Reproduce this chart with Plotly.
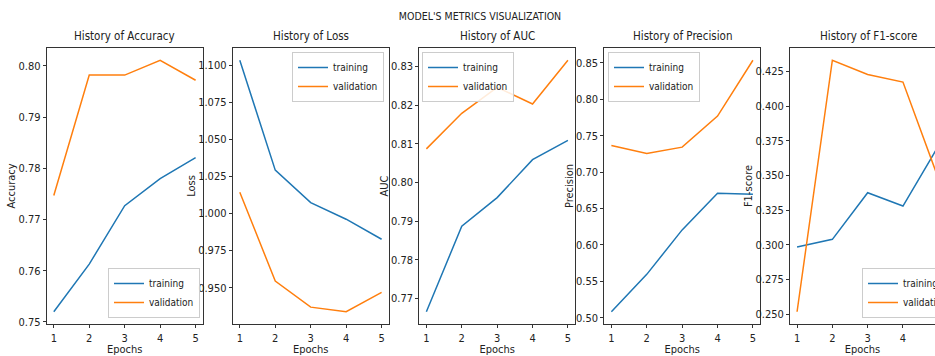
import plotly.graph_objects as go

epochs = [1, 2, 3, 4, 5]
acc_train = [0.7520, 0.7613, 0.7727, 0.7780, 0.7821]
acc_val = [0.7747, 0.7982, 0.7982, 0.8011, 0.7972]
loss_train = [1.1034, 1.0293, 1.0074, 0.9962, 0.9827]
loss_val = [1.0144, 0.9545, 0.9369, 0.9338, 0.9468]
auc_train = [0.7666, 0.7887, 0.7961, 0.8059, 0.8109]
auc_val = [0.8087, 0.8179, 0.8246, 0.8203, 0.8316]
prec_train = [0.5083, 0.5596, 0.6207, 0.6711, 0.6697]
prec_val = [0.7367, 0.7257, 0.7344, 0.7770, 0.8537]
f1_train = [0.2983, 0.3039, 0.3375, 0.3279, 0.3710]
f1_val = [0.2517, 0.4330, 0.4228, 0.4173, 0.3480]

panel_titles = ["History of Accuracy", "History of Loss", "History of AUC",
                "History of Precision", "History of F1-score"]
y_labels = ["Accuracy", "Loss", "AUC", "Precision", "F1-score"]
series = [(acc_train, acc_val), (loss_train, loss_val), (auc_train, auc_val),
          (prec_train, prec_val), (f1_train, f1_val)]
dticks = [0.01, 0.025, 0.01, 0.05, 0.025]
tickfmts = [".2f", ".3f", ".2f", ".2f", ".3f"]

W, H = 935, 356
FONT = "Liberation Sans Narrow, DejaVu Sans Condensed, Liberation Sans, sans-serif"
BLUE, ORANGE = "#1f77b4", "#ff7f0e"
TXT = "#222"
panels_px = [(46.7, 202.7), (232.7, 388.7), (419.3, 575.0), (604.3, 760.0), (790.0, 935.0)]
y_top, y_bot = 47.7, 324.3
ydom = [1 - y_bot / H, 1 - y_top / H]

legend_pos = [
    dict(x=200 / W, y=1 - 318 / H, xanchor="right", yanchor="bottom"),
    dict(x=384 / W, y=1 - 52 / H, xanchor="right", yanchor="top"),
    dict(x=422 / W, y=1 - 52 / H, xanchor="left", yanchor="top"),
    dict(x=608 / W, y=1 - 52 / H, xanchor="left", yanchor="top"),
    dict(x=862 / W, y=1 - 318 / H, xanchor="left", yanchor="bottom"),
]

fig = go.Figure()
layout = {}
annotations = []
for i in range(5):
    n = "" if i == 0 else str(i + 1)
    xa, ya = "x" + n, "y" + n
    lg = "legend" + n
    tr, va = series[i]
    fig.add_trace(go.Scatter(x=epochs, y=tr, mode="lines", name="training",
                             line=dict(color=BLUE, width=1.5), xaxis=xa, yaxis=ya, legend=lg))
    fig.add_trace(go.Scatter(x=epochs, y=va, mode="lines", name="validation",
                             line=dict(color=ORANGE, width=1.5), xaxis=xa, yaxis=ya, legend=lg))
    lo = min(tr + va)
    hi = max(tr + va)
    pad = 0.05 * (hi - lo)
    l, r = panels_px[i]
    xr = [0.8, 5.2] if i < 4 else [0.8, 0.8 + (r - l) / 35.3]
    layout["xaxis" + n] = dict(
        domain=[l / W, r / W], range=xr, anchor=ya, tickvals=epochs,
        showline=True, mirror=True, linecolor="#333", linewidth=1,
        ticks="outside", ticklen=3, tickcolor="#333", showgrid=False, zeroline=False,
        tickfont=dict(family=FONT, size=11, color=TXT),
        title=dict(text="Epochs", font=dict(family=FONT, size=11, color=TXT), standoff=0),
    )
    layout["yaxis" + n] = dict(
        domain=ydom, range=[lo - pad, hi + pad], anchor=xa, dtick=dticks[i], tick0=0,
        tickformat=tickfmts[i],
        showline=True, mirror=(i < 4), linecolor="#333", linewidth=1,
        ticks="outside", ticklen=3, tickcolor="#333", showgrid=False, zeroline=False,
        tickfont=dict(family=FONT, size=11, color=TXT),
        title=dict(text=y_labels[i], font=dict(family=FONT, size=11, color=TXT), standoff=0),
    )
    layout[lg] = dict(**legend_pos[i], bgcolor="rgba(255,255,255,0.85)", bordercolor="#cccccc",
                      borderwidth=1, font=dict(family=FONT, size=10, color=TXT),
                      itemwidth=30, tracegroupgap=0)
    annotations.append(dict(text=panel_titles[i], xref=xa + " domain", yref=ya + " domain",
                            x=0.5 * (156 / (r - l)),
                            y=1, yanchor="bottom", yshift=3, showarrow=False,
                            font=dict(family=FONT, size=11.5, color=TXT)))

fig.update_layout(
    **layout,
    annotations=annotations,
    width=W, height=H,
    margin=dict(l=0, r=0, t=0, b=0, autoexpand=False),
    paper_bgcolor="white", plot_bgcolor="white",
    title=dict(text="MODEL'S METRICS VISUALIZATION", x=480 / W, xanchor="center",
               y=1 - 16 / H, yanchor="middle", yref="container",
               font=dict(family=FONT, size=10.5, color=TXT)),
)
fig.write_html("out.html", config={"displayModeBar": False},
               post_script="document.body.style.margin='0';document.body.style.overflow='hidden';")
